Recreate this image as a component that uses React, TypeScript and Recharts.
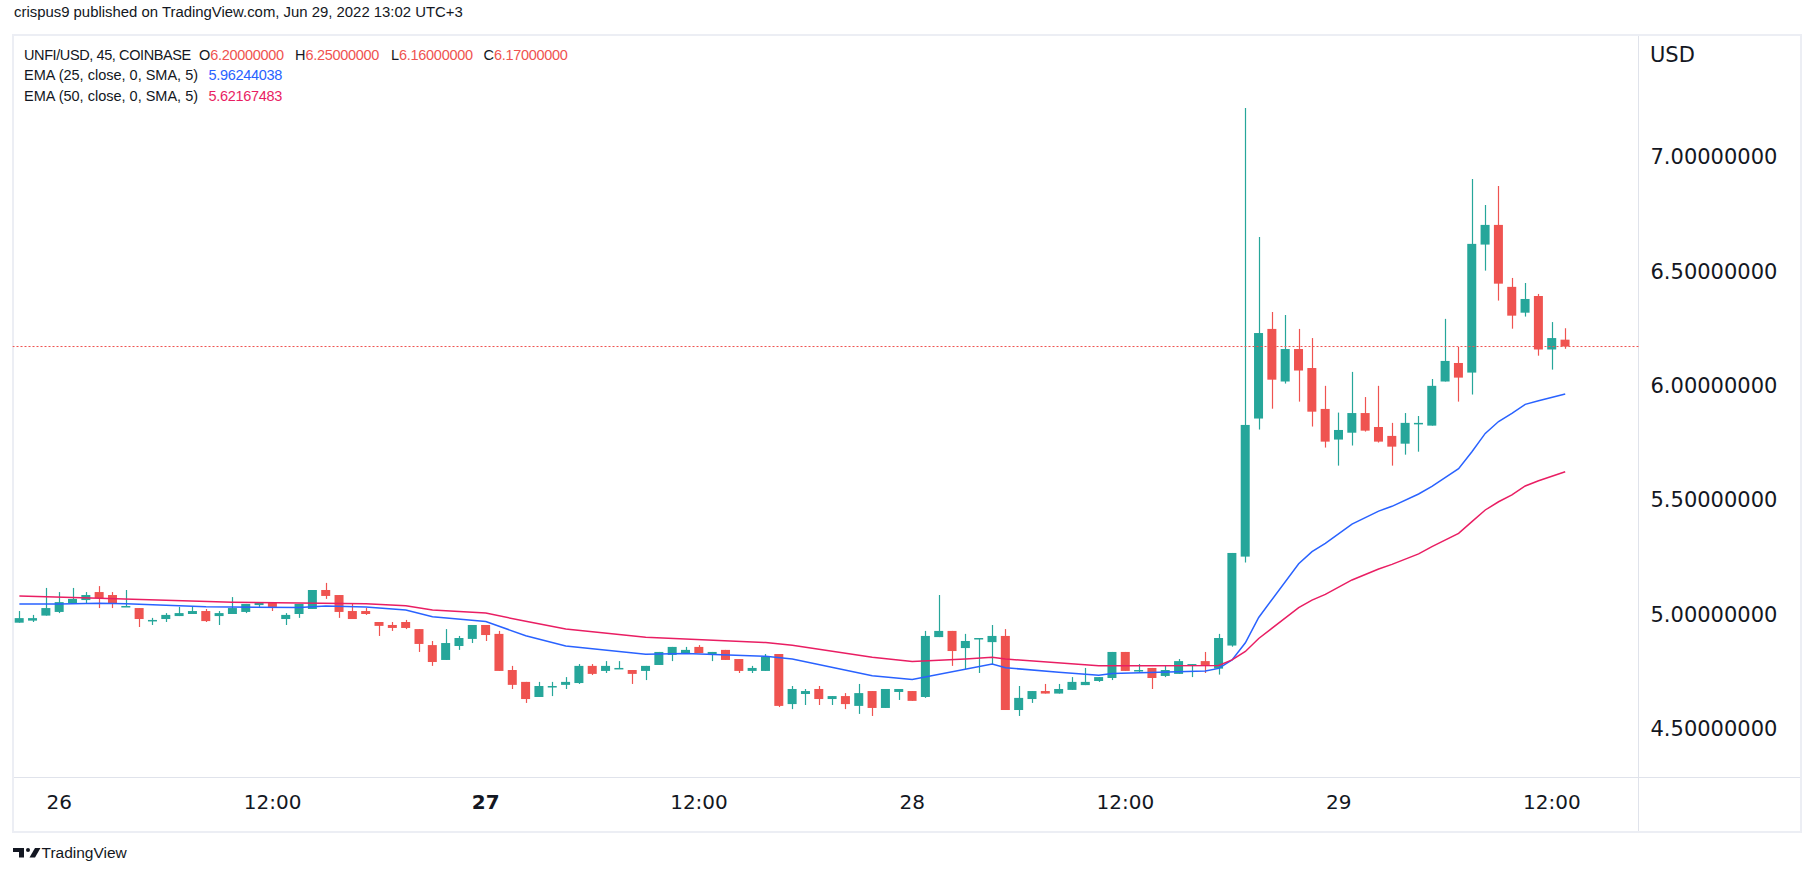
import { Bar, ComposedChart, Line, ReferenceLine, XAxis, YAxis } from 'recharts';

// 45m UNFI/USD bars, first visible bar is Jun 25 21:45
const opens = [
  4.962, 4.971, 4.993, 5.009, 5.048, 5.061, 5.096, 5.083, 5.032, 5.026,
  4.971, 4.978, 4.991, 5.0, 5.013, 4.991, 5.0, 5.009, 5.039, 5.048,
  4.978, 5.0, 5.022, 5.105, 5.083, 5.013, 5.013, 4.965, 4.952, 4.965,
  4.934, 4.864, 4.799, 4.86, 4.891, 4.952, 4.913, 4.755, 4.703, 4.637,
  4.682, 4.69, 4.698, 4.773, 4.751, 4.761, 4.755, 4.751, 4.777, 4.821,
  4.829, 4.856, 4.821, 4.843, 4.803, 4.751, 4.751, 4.825, 4.606, 4.65,
  4.672, 4.628, 4.641, 4.598, 4.663, 4.589, 4.659, 4.663, 4.637, 4.899,
  4.926, 4.851, 4.892, 4.877, 4.904, 4.58, 4.628, 4.663, 4.652, 4.668,
  4.689, 4.707, 4.72, 4.834, 4.752, 4.764, 4.729, 4.738, 4.778, 4.794,
  4.761, 4.862, 5.251, 5.855, 6.247, 6.017, 6.159, 6.076, 5.897, 5.763,
  5.793, 5.879, 5.818, 5.779, 5.745, 5.833, 5.824, 6.017, 6.098, 6.056,
  6.616, 6.702, 6.431, 6.318, 6.391, 6.157, 6.2,
];
const highs = [
  5.013, 4.996, 5.114, 5.096, 5.114, 5.096, 5.122, 5.096, 5.105, 5.026,
  4.983, 5.004, 5.031, 5.035, 5.022, 5.013, 5.074, 5.044, 5.052, 5.052,
  5.004, 5.044, 5.105, 5.136, 5.083, 5.048, 5.026, 4.965, 4.965, 4.974,
  4.934, 4.882, 4.934, 4.904, 4.952, 4.952, 4.926, 4.773, 4.703, 4.703,
  4.703, 4.724, 4.781, 4.781, 4.794, 4.794, 4.755, 4.773, 4.834, 4.856,
  4.856, 4.864, 4.834, 4.843, 4.803, 4.773, 4.825, 4.825, 4.685, 4.672,
  4.685, 4.641, 4.654, 4.694, 4.663, 4.672, 4.672, 4.663, 4.926, 5.083,
  4.926, 4.913, 4.895, 4.952, 4.934, 4.685, 4.663, 4.694, 4.694, 4.724,
  4.764, 4.724, 4.834, 4.834, 4.781, 4.764, 4.773, 4.803, 4.781, 4.834,
  4.913, 5.267, 7.213, 6.649, 6.321, 6.308, 6.247, 6.207, 5.998, 5.881,
  6.059, 5.949, 5.998, 5.836, 5.879, 5.866, 6.028, 6.291, 6.168, 6.903,
  6.789, 6.872, 6.47, 6.448, 6.4, 6.277, 6.25,
];
const lows = [
  4.962, 4.965, 4.993, 5.004, 5.044, 5.044, 5.026, 5.026, 5.032, 4.943,
  4.952, 4.965, 4.991, 5.0, 4.965, 4.952, 5.0, 5.004, 5.031, 5.013,
  4.952, 4.983, 5.022, 5.066, 4.983, 4.978, 4.996, 4.904, 4.926, 4.934,
  4.834, 4.773, 4.799, 4.843, 4.873, 4.882, 4.751, 4.672, 4.611, 4.637,
  4.641, 4.672, 4.694, 4.733, 4.742, 4.761, 4.694, 4.711, 4.777, 4.794,
  4.829, 4.829, 4.794, 4.799, 4.742, 4.742, 4.751, 4.593, 4.584, 4.602,
  4.602, 4.602, 4.584, 4.563, 4.554, 4.589, 4.624, 4.62, 4.633, 4.899,
  4.773, 4.759, 4.742, 4.781, 4.58, 4.554, 4.611, 4.652, 4.652, 4.668,
  4.689, 4.703, 4.711, 4.751, 4.742, 4.672, 4.724, 4.738, 4.724, 4.742,
  4.735, 4.857, 5.225, 5.807, 5.898, 6.008, 5.929, 5.82, 5.728, 5.649,
  5.737, 5.798, 5.75, 5.649, 5.697, 5.71, 5.824, 6.017, 5.929, 5.96,
  6.502, 6.371, 6.248, 6.301, 6.13, 6.069, 6.16,
];
const closes = [
  4.982, 4.982, 5.026, 5.052, 5.066, 5.083, 5.07, 5.048, 5.035, 4.978,
  4.974, 4.996, 5.004, 5.013, 4.969, 5.004, 5.026, 5.044, 5.052, 5.031,
  4.996, 5.044, 5.105, 5.079, 5.009, 4.978, 5.0, 4.948, 4.939, 4.939,
  4.869, 4.79, 4.873, 4.895, 4.952, 4.908, 4.751, 4.69, 4.628, 4.685,
  4.685, 4.703, 4.773, 4.738, 4.773, 4.764, 4.738, 4.773, 4.834, 4.856,
  4.843, 4.829, 4.834, 4.799, 4.751, 4.764, 4.812, 4.598, 4.672, 4.663,
  4.628, 4.641, 4.606, 4.654, 4.589, 4.672, 4.672, 4.62, 4.904, 4.926,
  4.838, 4.882, 4.895, 4.904, 4.58, 4.633, 4.663, 4.652, 4.672, 4.703,
  4.703, 4.724, 4.834, 4.751, 4.755, 4.72, 4.755, 4.794, 4.781, 4.773,
  4.895, 5.267, 5.827, 6.229, 6.025, 6.159, 6.065, 5.885, 5.754, 5.805,
  5.879, 5.802, 5.754, 5.732, 5.836, 5.836, 5.998, 6.107, 6.034, 6.619,
  6.702, 6.445, 6.305, 6.378, 6.157, 6.207, 6.17,
];

// EMA values at their bends: [bar index, value]
const ema25Points: [number, number][] = [
  [0, 5.044], [3, 5.044], [6, 5.047], [8, 5.045], [14, 5.032], [21, 5.028],
  [23, 5.035], [26, 5.031], [29, 5.017], [31, 4.988], [35, 4.967], [38, 4.905],
  [41, 4.86], [47, 4.824], [50, 4.827], [56, 4.815], [58, 4.803], [64, 4.73],
  [67, 4.714], [73, 4.781], [74, 4.765], [78, 4.745], [81, 4.732], [82, 4.74],
  [89, 4.751], [90, 4.762], [91, 4.799], [92, 4.874], [93, 4.985], [96, 5.22],
  [97, 5.273], [98, 5.309], [100, 5.393], [102, 5.45], [103, 5.471], [105, 5.525],
  [106, 5.558], [108, 5.636], [109, 5.71], [110, 5.79], [111, 5.842], [112, 5.878],
  [113, 5.917], [114, 5.933], [116, 5.962],
];
const ema50Points: [number, number][] = [
  [0, 5.079], [6, 5.069], [16, 5.051], [21, 5.048], [26, 5.045], [29, 5.036],
  [31, 5.017], [35, 5.004], [38, 4.968], [41, 4.934], [47, 4.898], [56, 4.875],
  [58, 4.863], [64, 4.811], [67, 4.792], [71, 4.803], [73, 4.811], [74, 4.803],
  [81, 4.774], [85, 4.774], [90, 4.775], [91, 4.799], [92, 4.836], [93, 4.893],
  [96, 5.028], [97, 5.061], [98, 5.086], [100, 5.149], [102, 5.197], [103, 5.217],
  [105, 5.263], [106, 5.295], [108, 5.353], [109, 5.404], [110, 5.455], [111, 5.491],
  [112, 5.521], [113, 5.56], [114, 5.583], [116, 5.622],
];

const tickIndex = [3, 19, 35, 51, 67, 83, 99, 115];
const tickLabels = ['26', '12:00', '27', '12:00', '28', '12:00', '29', '12:00'];
const boldLabels = ['27'];
const priceTicks = [4.5, 5, 5.5, 6, 6.5, 7];
const lastPrice = 6.17;
const slotCount = 122; // bars plus empty space on the right

const UP = '#26a69a';
const DOWN = '#ef5350';
const BLUE = '#2962ff';
const PINK = '#e91e63';
const TEXT = '#131722';
const BORDER = '#e0e3eb';

const ema25Map = new Map(ema25Points);
const ema50Map = new Map(ema50Points);

const data = Array.from({ length: slotCount }, (_, i) => {
  const has = i < opens.length;
  return {
    idx: i,
    open: has ? opens[i] : null,
    high: has ? highs[i] : null,
    low: has ? lows[i] : null,
    close: has ? closes[i] : null,
    range: has ? [lows[i], highs[i]] : null,
    ema25: ema25Map.has(i) ? ema25Map.get(i) : null,
    ema50: ema50Map.has(i) ? ema50Map.get(i) : null,
  };
});

const Candle = (props: any) => {
  const { x, y, width, height, payload } = props;
  if (!payload || payload.open == null || !isFinite(y)) return null;
  const { open, close, high, low } = payload;
  const top = Math.min(y, y + height);
  const h = Math.abs(height);
  const py = (v: number) => (high === low ? top : top + ((high - v) / (high - low)) * h);
  const color = close >= open ? UP : DOWN;
  const cx = Math.round(x + width / 2) + 0.5;
  const bTop = py(Math.max(open, close));
  const bBot = py(Math.min(open, close));
  return (
    <g>
      <line x1={cx} x2={cx} y1={top} y2={top + h} stroke={color} strokeWidth={1.2} />
      <rect x={x} y={bTop} width={width} height={Math.max(1.5, bBot - bTop)} fill={color} />
    </g>
  );
};

const TimeTick = (props: any) => {
  const { x, y, payload } = props;
  const label = tickLabels[tickIndex.indexOf(payload.value)] ?? '';
  return (
    <text
      x={x}
      y={y + 24}
      textAnchor="middle"
      fill={TEXT}
      fontSize={20}
      fontFamily="DejaVu Sans"
      fontWeight={boldLabels.includes(label) ? 700 : 400}
    >
      {label}
    </text>
  );
};

const PriceTick = (props: any) => {
  const { x, y, payload } = props;
  return (
    <text x={x} y={y} dy="0.36em" textAnchor="start" fill={TEXT} fontSize={21} fontFamily="DejaVu Sans">
      {Number(payload.value).toFixed(8)}
    </text>
  );
};

const legendRow: React.CSSProperties = {
  position: 'absolute',
  left: 0,
  width: 600,
  height: 20,
  fontSize: 14.5,
  color: TEXT,
  whiteSpace: 'pre',
  lineHeight: '20px',
};
const at = (left: number, extra?: React.CSSProperties): React.CSSProperties => ({
  position: 'absolute',
  left,
  top: 0,
  ...extra,
});
const valueStyle = { letterSpacing: -0.3 };

export default function App() {
  return (
    <div
      style={{
        position: 'absolute',
        left: 0,
        top: 0,
        width: 1813,
        height: 876,
        background: '#fff',
        fontFamily: "'Liberation Sans', Arial, sans-serif",
        overflow: 'hidden',
      }}
    >
      <div style={{ position: 'absolute', left: 14, top: 4, fontSize: 14.9, color: TEXT, whiteSpace: 'pre' }}>
        crispus9 published on TradingView.com, Jun 29, 2022 13:02 UTC+3
      </div>

      {/* chart frame */}
      <div
        style={{
          position: 'absolute',
          left: 12,
          top: 34,
          width: 1786,
          height: 795,
          border: '2px solid #eceef4',
        }}
      />
      <div style={{ position: 'absolute', left: 14, top: 777, width: 1786, height: 1, background: BORDER }} />
      <div style={{ position: 'absolute', left: 1638, top: 36, width: 1, height: 795, background: BORDER }} />

      <div style={{ position: 'absolute', left: 0, top: 0 }}>
        <ComposedChart
          width={1813}
          height={876}
          data={data}
          margin={{ top: 34.7, left: 12.7, right: 14.5, bottom: 45 }}
        >
          <XAxis
            dataKey="idx"
            type="category"
            ticks={tickIndex}
            interval={0}
            height={54}
            axisLine={false}
            tickLine={false}
            tick={<TimeTick />}
          />
          <YAxis
            orientation="right"
            type="number"
            domain={[4.287, 7.534]}
            ticks={priceTicks}
            width={160}
            axisLine={false}
            tickLine={false}
            tickSize={6}
            tickMargin={6}
            tick={<PriceTick />}
            allowDataOverflow
          />
          <ReferenceLine y={lastPrice} stroke={DOWN} strokeDasharray="2 2" strokeWidth={1} />
          <Bar dataKey="range" barSize={9} shape={<Candle />} isAnimationActive={false} />
          <Line
            dataKey="ema25"
            stroke={BLUE}
            strokeWidth={1.5}
            dot={false}
            connectNulls
            isAnimationActive={false}
          />
          <Line
            dataKey="ema50"
            stroke={PINK}
            strokeWidth={1.5}
            dot={false}
            connectNulls
            isAnimationActive={false}
          />
        </ComposedChart>
      </div>

      {/* legend */}
      <div style={{ ...legendRow, top: 45 }}>
        <span style={at(24, { letterSpacing: -0.4 })}>UNFI/USD, 45, COINBASE</span>
        <span style={at(199)}>
          O<span style={{ ...valueStyle, color: DOWN }}>6.20000000</span>
        </span>
        <span style={at(295)}>
          H<span style={{ ...valueStyle, color: DOWN }}>6.25000000</span>
        </span>
        <span style={at(391)}>
          L<span style={{ ...valueStyle, color: DOWN }}>6.16000000</span>
        </span>
        <span style={at(483.5)}>
          C<span style={{ ...valueStyle, color: DOWN }}>6.17000000</span>
        </span>
      </div>
      <div style={{ ...legendRow, top: 65 }}>
        <span style={at(24)}>EMA (25, close, 0, SMA, 5)</span>
        <span style={at(208.5, { ...valueStyle, color: BLUE })}>5.96244038</span>
      </div>
      <div style={{ ...legendRow, top: 86 }}>
        <span style={at(24)}>EMA (50, close, 0, SMA, 5)</span>
        <span style={at(208.5, { ...valueStyle, color: PINK })}>5.62167483</span>
      </div>

      <div
        style={{
          position: 'absolute',
          left: 1650,
          top: 43,
          fontSize: 21,
          fontFamily: 'DejaVu Sans',
          color: TEXT,
        }}
      >
        USD
      </div>

      {/* footer logo */}
      <svg style={{ position: 'absolute', left: 13, top: 848 }} width={28} height={10} viewBox="0 0 28 10">
        <rect x={0} y={0} width={11} height={4} fill={TEXT} />
        <rect x={6} y={0} width={5} height={9.5} fill={TEXT} />
        <circle cx={15} cy={2} r={2} fill={TEXT} />
        <polygon points="16.5,9.5 22,0 27.5,0 22,9.5" fill={TEXT} />
      </svg>
      <div
        style={{
          position: 'absolute',
          left: 41.5,
          top: 843,
          fontSize: 15.5,
          color: TEXT,
          whiteSpace: 'pre',
          lineHeight: '20px',
        }}
      >
        TradingView
      </div>
    </div>
  );
}
